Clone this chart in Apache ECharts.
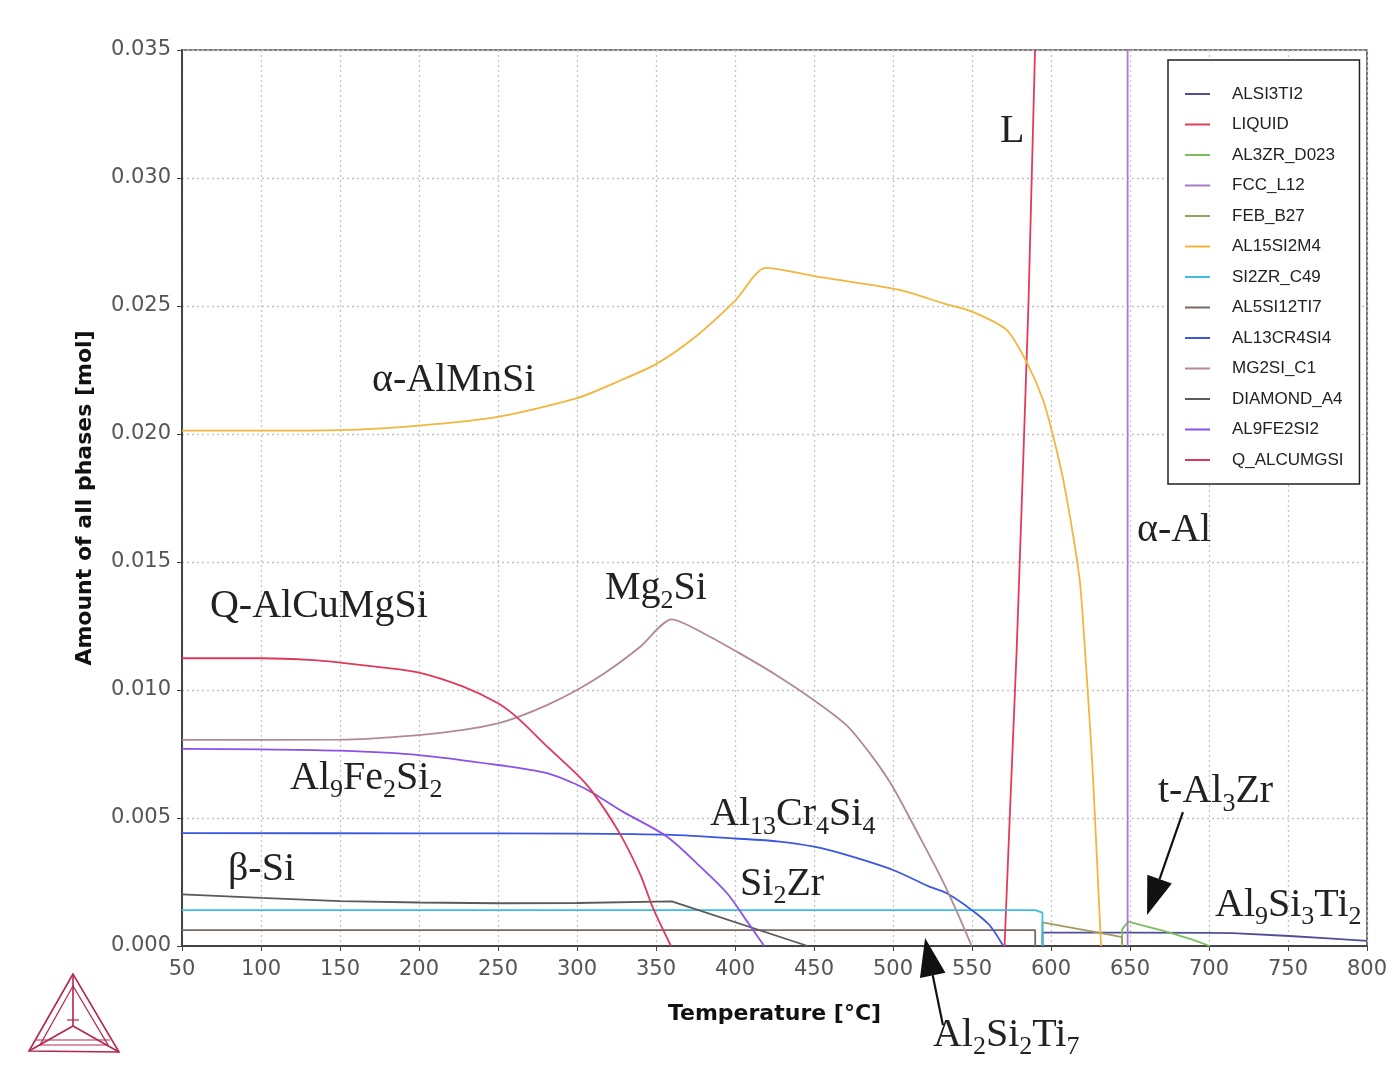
<!DOCTYPE html>
<html><head><meta charset="utf-8">
<script src="https://cdn.jsdelivr.net/npm/echarts@6/dist/echarts.min.js"></script>
<style>html,body{margin:0;padding:0;background:#fff}#c{width:1391px;height:1070px}</style>
</head><body><div id="c"></div>
<script>
// ---- data: [temperature °C, amount mol] ----
const ALSI3TI2   = [[594.6,0],[594.7,0.00052],[650,0.00052],[700,0.00051],[715,0.0005],[751,0.00039],[778,0.00029],[800,0.0002]];
const LIQUID     = [[570.6,0],[574,0.0052],[578.3,0.0116],[582,0.0182],[585.7,0.025],[589.9,0.035]];
const AL3ZR_D023 = [[645,0],[645,0.00065],[648.8,0.00095],[673,0.00056],[690,0.00024],[700.5,0]];
const FCC_L12    = [[648.5,0],[648.5,0.036]];
const FEB_B27    = [[594.6,0],[594.6,0.00092],[610,0.00075],[630,0.00052],[645,0.00035],[645,0]];
const AL15SI2M4  = [[50,0.02013],[100,0.02013],[150,0.02015],[200,0.02033],[250,0.02067],[300,0.0214],[324,0.022],[350,0.02273],[375,0.0238],[400,0.0252],[419.5,0.02649],[450,0.02617],[504,0.02563],[532,0.0251],[550,0.02478],[572,0.02406],[584.5,0.02282],[595,0.02133],[601.4,0.0199],[607.8,0.0182],[614.1,0.016],[618.4,0.01417],[621.5,0.01156],[626,0.00727],[629.1,0.00336],[631.7,0]];
const SI2ZR_C49  = [[50,0.0014],[590,0.0014],[594.6,0.0013],[594.6,0]];
const AL5SI12TI7 = [[50,0.00062],[590,0.00062],[590,0]];
const AL13CR4SI4 = [[50,0.00441],[200,0.0044],[300,0.00439],[360,0.00434],[400,0.0042],[428,0.00408],[450,0.00388],[471,0.00355],[500,0.00297],[523,0.00232],[534,0.00206],[550,0.0014],[561,0.00082],[569.8,0]];
const MG2SI_C1   = [[50,0.00805],[150,0.00806],[200,0.00824],[228,0.00844],[250,0.0087],[262,0.00893],[281,0.00941],[300,0.0100],[319,0.01072],[340,0.01169],[360,0.01276],[382,0.01215],[403,0.01143],[426,0.01059],[450,0.0096],[471,0.0086],[487.5,0.00735],[500,0.0062],[517,0.00425],[530,0.00272],[540,0.0014],[549.8,0]];
const DIAMOND_A4 = [[50,0.00202],[100,0.00188],[150,0.00175],[200,0.0017],[250,0.00167],[300,0.00168],[360,0.00174],[446,0]];
const AL9FE2SI2  = [[50,0.0077],[100,0.00768],[150,0.00763],[200,0.00746],[250,0.00707],[281,0.00675],[300,0.0063],[310,0.00598],[329,0.00525],[357,0.00427],[378,0.0031],[395,0.00206],[407,0.00102],[418.5,0]];
const Q_ALCUMGSI = [[50,0.01124],[100,0.01124],[133,0.01117],[150,0.01107],[175,0.01089],[200,0.01068],[228,0.01013],[250,0.00948],[262,0.00893],[281,0.0078],[300,0.0067],[310,0.006],[327,0.0044],[340,0.0028],[348,0.0015],[359.5,0]];

const seriesNames  = ['ALSI3TI2','LIQUID','AL3ZR_D023','FCC_L12','FEB_B27','AL15SI2M4','SI2ZR_C49','AL5SI12TI7','AL13CR4SI4','MG2SI_C1','DIAMOND_A4','AL9FE2SI2','Q_ALCUMGSI'];
const seriesData   = [ALSI3TI2,LIQUID,AL3ZR_D023,FCC_L12,FEB_B27,AL15SI2M4,SI2ZR_C49,AL5SI12TI7,AL13CR4SI4,MG2SI_C1,DIAMOND_A4,AL9FE2SI2,Q_ALCUMGSI];
const seriesColors = ['#4f4f98','#e03c5a','#7dbf5e','#a57bd0','#a39a5e','#f2b63c','#3dbde6','#7b6a64','#3b57e0','#b0899a','#5a5a5a','#8a52e6','#dc3a5c'];
const smoothFlags  = [false,false,false,false,false,0.25,false,false,0.3,0.25,false,0.3,0.3];

// annotation labels: [text, T, amount]
const annoTexts = ['α-AlMnSi','Q-AlCuMgSi','Mg{s|2}Si','Al{s|9}Fe{s|2}Si{s|2}','Al{s|13}Cr{s|4}Si{s|4}','β-Si','Si{s|2}Zr','L','α-Al','t-Al{s|3}Zr','Al{s|9}Si{s|3}Ti{s|2}','Al{s|2}Si{s|2}Ti{s|7}'];
const annoT     = [170.3, 67.7, 317.7, 118.4, 384.2, 79.1, 403.2, 567.7, 654.4, 667.7, 703.8, 525.3];
const annoV     = [0.0221, 0.01325, 0.01395, 0.00656, 0.00512, 0.00297, 0.00242, 0.0318, 0.01625, 0.00602, 0.0016, -0.00348];
// arrows: [tailT, tailV, tipT, tipV]
const arrows = [[683.5,0.00523,660.8,0.00121],[531.6,-0.00309,520.3,0.00031]];

const xTicks = {min:50, max:800, interval:50};
const yTicks = {min:0, max:0.035, interval:0.005};

const sans = 'DejaVu Sans, Verdana, sans-serif';
const chart = echarts.init(document.getElementById('c'), null, {renderer:'canvas'});
const series = seriesNames.map((n,i)=>({
  name:n, type:'line', data:seriesData[i], showSymbol:false, symbol:'none',
  smooth:smoothFlags[i],
  lineStyle:{color:seriesColors[i], width:1.8}, itemStyle:{color:seriesColors[i]},
  clip:true, z: 3
}));

chart.setOption({
  animation:false,
  backgroundColor:'#fff',
  grid:{left:182, top:50, right:24, bottom:124, show:true, borderColor:'#555', borderWidth:1.6, backgroundColor:'transparent'},
  xAxis:{type:'value', min:xTicks.min, max:xTicks.max, interval:xTicks.interval,
    name:'Temperature [°C]', nameLocation:'middle', nameGap:57,
    nameTextStyle:{fontFamily:sans, fontWeight:'bold', fontSize:22, color:'#111'},
    axisLine:{show:true, onZero:false, lineStyle:{color:'#444', width:2}},
    axisTick:{show:true, length:5, lineStyle:{color:'#444'}},
    axisLabel:{fontFamily:sans, fontSize:21, color:'#555', margin:13},
    splitLine:{show:true, lineStyle:{type:[2,3], color:'#c4c4c4', width:1.3}}},
  yAxis:{type:'value', min:yTicks.min, max:yTicks.max, interval:yTicks.interval,
    name:'Amount of all phases [mol]', nameLocation:'middle', nameGap:86,
    nameTextStyle:{fontFamily:sans, fontWeight:'bold', fontSize:22, color:'#111'},
    axisLine:{show:true, lineStyle:{color:'#444', width:2}},
    axisTick:{show:true, length:5, lineStyle:{color:'#444'}},
    axisLabel:{fontFamily:sans, fontSize:21, color:'#555', margin:11,
      formatter:v=>v.toFixed(3)},
    splitLine:{show:true, lineStyle:{type:[2,3], color:'#c4c4c4', width:1.3}}},
  legend:{show:true, orient:'vertical', left:1168, top:60, data:seriesNames,
    backgroundColor:'#fff', borderColor:'#222', borderWidth:1.5, padding:[24,16,14,17],
    icon:'rect', itemWidth:25, itemHeight:2, itemGap:10.5,
    textStyle:{fontFamily:'Liberation Sans, Arial, sans-serif', fontSize:17, color:'#222', lineHeight:20, padding:[0,0,0,17]}},
  series
});

function buildGraphics(){
  const g = [];
  const serif = 'Liberation Serif, Times New Roman, serif';
  annoTexts.forEach((t,i)=>{
    const p = chart.convertToPixel({gridIndex:0}, [annoT[i], annoV[i]]);
    g.push({type:'text', x:p[0], y:p[1], z:20, silent:true,
      style:{text:t, fontFamily:serif, fontSize:40, lineHeight:50, fill:'#222', align:'left', verticalAlign:'middle',
        rich:{s:{fontFamily:serif, fontSize:26, lineHeight:26, verticalAlign:'bottom', fill:'#222'}}}});
  });
  arrows.forEach(a=>{
    const t = chart.convertToPixel({gridIndex:0}, [a[0], a[1]]);
    const h = chart.convertToPixel({gridIndex:0}, [a[2], a[3]]);
    const dx = h[0]-t[0], dy = h[1]-t[1], L = Math.hypot(dx,dy);
    const ux = dx/L, uy = dy/L, hl = 38, hw = 13;
    const bx = h[0]-ux*hl, by = h[1]-uy*hl;
    g.push({type:'line', z:20, silent:true, shape:{x1:t[0], y1:t[1], x2:bx, y2:by}, style:{stroke:'#111', lineWidth:2.2}});
    g.push({type:'polygon', z:20, silent:true, shape:{points:[[h[0],h[1]],[bx-uy*hw, by+ux*hw],[bx+uy*hw, by-ux*hw]]}, style:{fill:'#111'}});
  });
  // logo (decoration)
  const lc = '#b3264e';
  const A=[73,974], B=[29,1051], C=[119,1052], O=[73,1026];
  const A2=[73,986], B2=[40,1045], C2=[108,1045];
  g.push({type:'polygon', silent:true, shape:{points:[A,B,C]}, style:{fill:'none', stroke:lc, lineWidth:1.6}});
  g.push({type:'polygon', silent:true, shape:{points:[A2,B2,C2]}, style:{fill:'none', stroke:lc, lineWidth:1.2}});
  [[A,O],[B,O],[C,O]].forEach(s=>{
    g.push({type:'line', silent:true, shape:{x1:s[0][0], y1:s[0][1], x2:s[1][0], y2:s[1][1]}, style:{stroke:lc, lineWidth:1.6}});
  });
  g.push({type:'line', silent:true, shape:{x1:67, y1:1020, x2:79, y2:1020}, style:{stroke:lc, lineWidth:1.2}});
  g.push({type:'line', silent:true, shape:{x1:36, y1:1040, x2:110, y2:1040}, style:{stroke:lc, lineWidth:1.0}});
  return g;
}
chart.setOption({graphic: buildGraphics()});
</script></body></html>
